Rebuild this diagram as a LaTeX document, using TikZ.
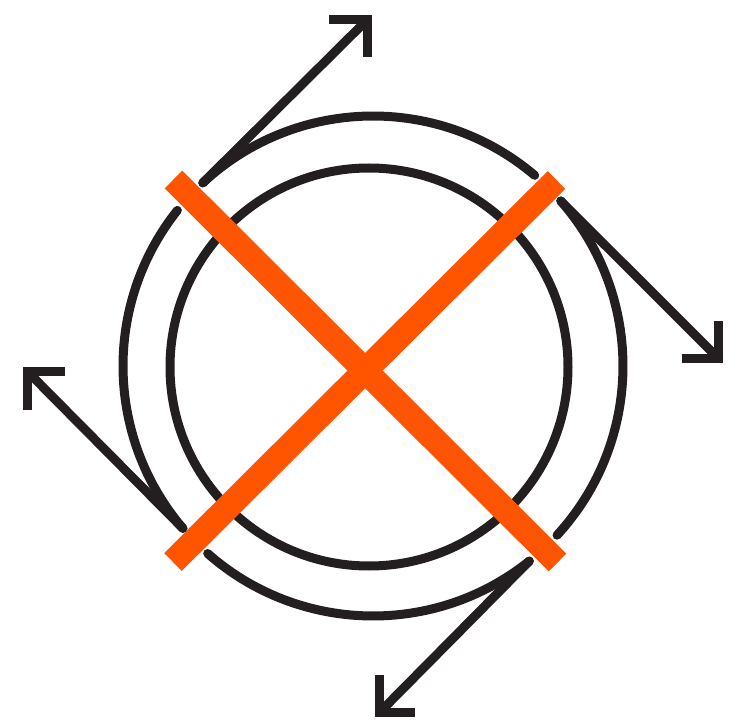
\documentclass[tikz,border=0pt]{standalone}
\usetikzlibrary{calc}
\definecolor{inkblack}{RGB}{35,31,32}
\definecolor{crossorange}{RGB}{255,85,0}
\begin{document}
\begin{tikzpicture}[x=1pt,y=1pt,
  ring/.style={draw=inkblack,line width=9pt,line cap=round,line join=round},
  shaft/.style={draw=inkblack,line width=9pt,line cap=round},
  head/.style={draw=inkblack,line width=9pt,line cap=butt,line join=miter},
  bar/.style={draw=crossorange,line width=25pt,line cap=butt}]
\useasboundingbox (0,0) rectangle (742,724);
% centres
\coordinate (O) at (373,358);
\coordinate (I) at (369,357);
% inner circle
\draw[ring] (I) circle[radius=199pt];
% arc starts (tangent points)
\coordinate (S1) at ($(O)+(132.9:250)$);
\coordinate (S2) at ($(O)+(41.3:250)$);
\coordinate (S3) at ($(O)+(-51.3:250)$);
\coordinate (S4) at ($(O)+(220.5:250)$);
% arrow tips and arms
\coordinate (T1) at (367.5,704.5); \coordinate (A1) at (329,704.5); \coordinate (B1) at (367.5,667);
\coordinate (T2) at (718.5,365.5); \coordinate (A2) at (681.5,365.5); \coordinate (B2) at (718.5,402.5);
\coordinate (T3) at (379.5,11.5); \coordinate (A3) at (379.5,49); \coordinate (B3) at (415,11.5);
\coordinate (T4) at (27.5,352.5); \coordinate (A4) at (65,352.5); \coordinate (B4) at (27.5,314);
% outer arcs
\draw[ring] (S1) arc[start angle=132.9,end angle=49.7,radius=250pt];
\draw[ring] (S2) arc[start angle=41.3,end angle=-42.6,radius=250pt];
\draw[ring] (S3) arc[start angle=-51.3,end angle=-131.4,radius=250pt];
\draw[ring] (S4) arc[start angle=220.5,end angle=141.5,radius=250pt];
% shafts
\draw[shaft] (S1) -- (T1);
\draw[shaft] (S2) -- (T2);
\draw[shaft] (S3) -- (T3);
\draw[shaft] (S4) -- (T4);
% heads
\draw[head] (A1) -- (T1) -- (B1);
\draw[head] (A2) -- (T2) -- (B2);
\draw[head] (A3) -- (T3) -- (B3);
\draw[head] (A4) -- (T4) -- (B4);
% cross
\coordinate (X1a) at (173.5,544.5); \coordinate (X1b) at (557.5,161.5);
\coordinate (X2a) at (173,162); \coordinate (X2b) at (556.5,544);
\draw[bar] (X1a) -- (X1b);
\draw[bar] (X2a) -- (X2b);
\end{tikzpicture}
\end{document}
